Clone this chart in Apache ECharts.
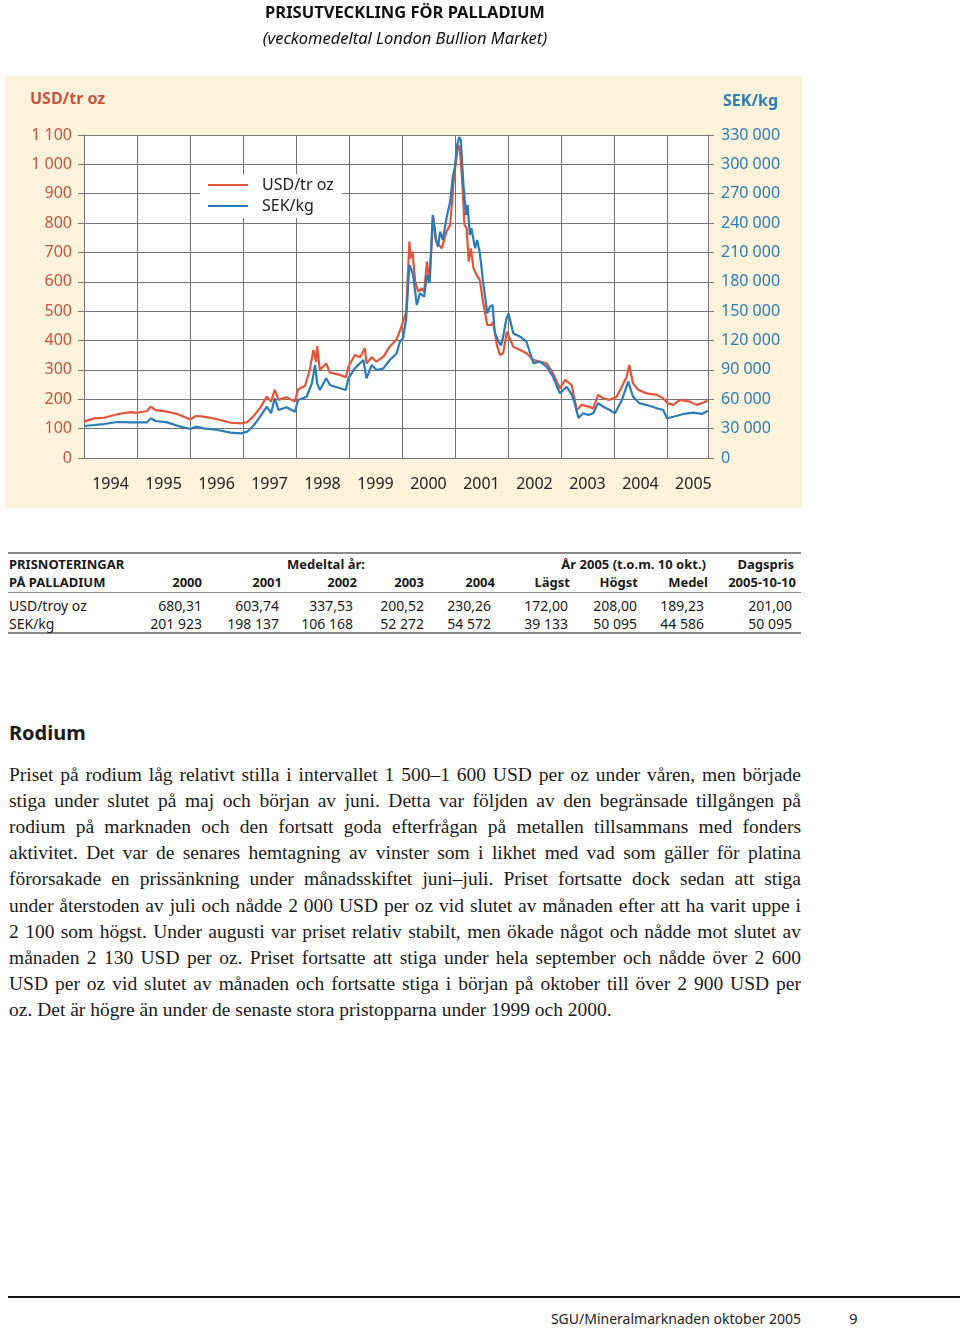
<!DOCTYPE html>
<html>
<head>
<meta charset="utf-8">
<script src="https://cdn.jsdelivr.net/npm/echarts@6/dist/echarts.min.js"></script>
<style>
  html, body { margin:0; padding:0; background:#fff; }
  #page { position:relative; width:960px; height:1328px; overflow:hidden; font-family:"Noto Sans", sans-serif; color:#1a1a1a; }
  #bg { position:absolute; left:5px; top:76px; width:797px; height:432px; background:#FDF3DA; }
  #chart { position:absolute; left:0; top:0; width:960px; height:515px; }
  .rule { position:absolute; left:8px; width:793px; background:#8a8a8a; }
  .cell { position:absolute; font-size:14px; line-height:17px; white-space:nowrap; transform:translateY(-50%); }
  .b { font-weight:700; font-size:13px; }
  #rodium { position:absolute; left:9px; top:732px; transform:translateY(-50%); font-weight:700; font-size:20px; }
  .pl { position:absolute; left:9px; width:792px; font-family:"Liberation Serif", serif; font-size:19.5px; line-height:26px; height:26px; text-align:justify; text-align-last:justify; overflow:hidden; }
  .pl.last { text-align-last:left; }
  #foot { position:absolute; left:8px; width:952px; top:1296px; height:2px; background:#111; }
  #src { position:absolute; right:159px; top:1318px; transform:translateY(-50%); font-size:14px; color:#222; white-space:nowrap; }
  #pg { position:absolute; left:849px; top:1318px; transform:translateY(-50%); font-size:15px; color:#222; }
</style>
</head>
<body>
<div id="page">
  <div id="bg"></div>
  <div id="chart"></div>
  <div id="table"></div>
  <div id="rodium">Rodium</div>
  <div id="para"></div>
  <div id="foot"></div>
  <div id="src">SGU/Mineralmarknaden oktober 2005</div>
  <div id="pg">9</div>
</div>
<script>
// ---- chart data ----
const yearLabels = ['1994','1995','1996','1997','1998','1999','2000','2001','2002','2003','2004','2005'];

const usdTime = [1994.00,1994.19,1994.38,1994.63,1994.88,1995.01,1995.19,1995.26,1995.35,1995.57,1995.76,1995.95,
  1996.01,1996.11,1996.26,1996.52,1996.77,1996.96,1997.08,1997.21,1997.32,1997.45,1997.53,1997.60,1997.67,1997.82,1997.98,
  1998.04,1998.17,1998.26,1998.33,1998.38,1998.40,1998.45,1998.57,1998.64,1998.83,1998.94,1998.99,
  1999.11,1999.21,1999.30,1999.33,1999.43,1999.52,1999.65,1999.77,1999.90,1999.99,
  2000.02,2000.08,2000.14,2000.16,2000.20,2000.25,2000.31,2000.37,2000.42,2000.47,2000.52,2000.59,2000.65,2000.75,2000.84,2000.91,2000.97,
  2001.00,2001.06,2001.09,2001.13,2001.18,2001.22,2001.26,2001.30,2001.35,2001.41,2001.47,2001.53,2001.61,2001.69,2001.72,2001.79,2001.85,2001.91,2001.98,
  2002.01,2002.10,2002.23,2002.35,2002.48,2002.60,2002.73,2002.85,2002.98,
  2003.08,2003.20,2003.30,2003.39,2003.52,2003.61,2003.70,2003.80,2003.92,
  2004.05,2004.15,2004.24,2004.29,2004.36,2004.46,2004.62,2004.81,2004.93,
  2005.02,2005.12,2005.25,2005.43,2005.56,2005.68,2005.77];
const usdPrice = [124,135,137,149,156,154,160,175,163,158,150,135,
  132,143,141,132,120,118,122,145,170,209,192,232,198,207,192,
  234,245,300,368,328,381,300,322,291,283,275,311,
  351,343,374,322,343,328,345,379,404,447,
  453,498,737,680,703,600,566,578,566,669,600,822,737,714,771,794,930,
  981,1066,1055,964,794,782,669,714,646,623,606,532,453,453,464,385,351,357,430,
  436,379,368,357,334,328,322,288,237,
  266,249,163,181,175,169,215,203,198,
  209,243,277,317,254,232,220,215,203,
  186,181,198,192,181,188,195];

const sekTime = [1994.00,1994.19,1994.38,1994.63,1994.88,1995.19,1995.26,1995.35,1995.57,1995.82,
  1996.01,1996.11,1996.26,1996.52,1996.77,1996.96,1997.08,1997.21,1997.32,1997.45,1997.53,1997.60,1997.67,1997.82,1997.98,
  1998.04,1998.20,1998.30,1998.36,1998.40,1998.45,1998.57,1998.64,1998.83,1998.94,1998.99,
  1999.11,1999.27,1999.33,1999.43,1999.52,1999.65,1999.77,1999.90,1999.96,
  2000.02,2000.08,2000.14,2000.18,2000.21,2000.28,2000.34,2000.42,2000.47,2000.52,2000.58,2000.64,2000.68,2000.72,2000.77,2000.84,2000.91,2000.96,
  2001.00,2001.04,2001.08,2001.11,2001.16,2001.21,2001.24,2001.28,2001.31,2001.38,2001.42,2001.47,2001.53,2001.61,2001.66,2001.71,2001.75,2001.82,2001.87,2001.91,2001.97,
  2002.01,2002.04,2002.10,2002.23,2002.35,2002.48,2002.60,2002.73,2002.85,2002.98,
  2003.11,2003.20,2003.25,2003.33,2003.42,2003.52,2003.61,2003.70,2003.80,2003.92,
  2004.02,2004.15,2004.27,2004.36,2004.48,2004.62,2004.81,2004.93,
  2005.00,2005.12,2005.31,2005.50,2005.66,2005.77];
const sekPrice = [32700,33700,34700,36800,36400,36400,40500,37800,36400,32000,
  29600,32000,30300,28600,25900,25200,26900,33700,42000,52400,45700,61000,49000,51800,47300,
  59300,62600,76300,95000,76300,69500,81400,74600,71200,69500,81400,
  91600,100100,81400,95000,89900,91600,100100,107000,118800,
  122300,142700,197200,192100,187000,156300,168300,164800,187000,178500,248300,222700,215900,231200,222700,244900,261900,287400,
  297600,319800,328000,324900,278900,248300,258500,227800,234700,214200,222700,209100,180100,147800,154600,156300,129000,118800,115000,124000,142000,
  147800,141000,127400,123900,118800,96800,98400,93300,83100,66100,
  72800,65000,58000,41000,45700,43900,45700,55900,52400,49000,
  45700,59300,78000,62600,56000,54100,50800,49000,
  40600,42200,45000,46300,45000,48300];

const seriesNames = ['USD/tr oz', 'SEK/kg'];

// ---- table data ----
const tableHeadTop = [['PRISNOTERINGAR', 9, 'l'], ['Medeltal år:', 326, 'c'], ['År 2005 (t.o.m. 10 okt.)', 706, 'r'], ['Dagspris', 794, 'r']];
const tableHeadCols = ['2000','2001','2002','2003','2004','Lägst','Högst','Medel','2005-10-10'];
const headRight = [202, 282, 357, 424, 495, 570, 638, 708, 796];
const dataRight = [202, 279, 353, 424, 491, 568, 637, 704, 792];
const rowLabels = ['USD/troy oz', 'SEK/kg'];
const rowUsd = ['680,31','603,74','337,53','200,52','230,26','172,00','208,00','189,23','201,00'];
const rowSek = ['201 923','198 137','106 168','52 272','54 572','39 133','50 095','44 586','50 095'];

const paraLines = [
  'Priset på rodium låg relativt stilla i intervallet 1 500–1 600 USD per oz under våren, men började',
  'stiga under slutet på maj och början av juni. Detta var följden av den begränsade tillgången på',
  'rodium på marknaden och den fortsatt goda efterfrågan på metallen tillsammans med fonders',
  'aktivitet. Det var de senares hemtagning av vinster som i likhet med vad som gäller för platina',
  'förorsakade en prissänkning under månadsskiftet juni–juli. Priset fortsatte dock sedan att stiga',
  'under återstoden av juli och nådde 2 000 USD per oz vid slutet av månaden efter att ha varit uppe i',
  '2 100 som högst. Under augusti var priset relativ stabilt, men ökade något och nådde mot slutet av',
  'månaden 2 130 USD per oz. Priset fortsatte att stiga under hela september och nådde över 2 600',
  'USD per oz vid slutet av månaden och fortsatte stiga i början på oktober till över 2 900 USD per',
  'oz. Det är högre än under de senaste stora pristopparna under 1999 och 2000.'
];

// ---- build table ----
(function(){
  const t = document.getElementById('table');
  let h = '';
  h += '<div class="rule" style="top:552px;height:2px"></div>';
  h += '<div class="rule" style="top:592px;height:1px"></div>';
  h += '<div class="rule" style="top:632px;height:2px"></div>';
  tableHeadTop.forEach(([txt, x, a]) => {
    let pos = a === 'l' ? 'left:' + x + 'px' : a === 'r' ? 'right:' + (960 - x) + 'px' : 'left:' + x + 'px;transform:translate(-50%,-50%)';
    h += '<div class="cell b" style="top:564px;' + pos + '">' + txt + '</div>';
  });
  h += '<div class="cell b" style="top:582px;left:9px">PÅ PALLADIUM</div>';
  tableHeadCols.forEach((c, i) => { h += '<div class="cell b" style="top:582px;right:' + (960 - headRight[i]) + 'px">' + c + '</div>'; });
  [[rowLabels[0], rowUsd, 605], [rowLabels[1], rowSek, 623]].forEach(([lab, vals, y]) => {
    h += '<div class="cell" style="top:' + y + 'px;left:9px">' + lab + '</div>';
    vals.forEach((v, i) => { h += '<div class="cell" style="top:' + y + 'px;right:' + (960 - dataRight[i]) + 'px">' + v + '</div>'; });
  });
  t.innerHTML = h;
  const p = document.getElementById('para');
  let ph = '';
  paraLines.forEach((l, i) => {
    const top = 762 + i * 26.1;
    ph += '<div class="pl' + (i === paraLines.length - 1 ? ' last' : '') + '" style="top:' + top + 'px">' + l + '</div>';
  });
  p.innerHTML = ph;
})();

// ---- chart ----
const sp = v => String(v).replace(/\B(?=(\d{3})+(?!\d))/g, ' ');
const chart = echarts.init(document.getElementById('chart'), null, { renderer: 'canvas' });
const gridColor = '#757575';
const red = '#E2553A', blue = '#2B7BB9';
const xMin = 1994, xMax = 2005.775;
chart.setOption({
  backgroundColor: 'transparent',
  animation: false,
  textStyle: { fontFamily: 'Noto Sans' },
  graphic: [
    { type: 'text', x: 405, y: 13, style: { text: 'PRISUTVECKLING FÖR PALLADIUM', align: 'center', verticalAlign: 'middle', font: 'bold 16.5px "Noto Sans"', fill: '#111' } },
    { type: 'text', x: 405, y: 39, style: { text: '(veckomedeltal London Bullion Market)', align: 'center', verticalAlign: 'middle', font: 'italic 16.5px "Noto Sans"', fill: '#111' } },
    { type: 'text', x: 30, y: 99, style: { text: 'USD/tr oz', align: 'left', verticalAlign: 'middle', font: 'bold 16px "Noto Sans"', fill: '#C9553F' } },
    { type: 'text', x: 723, y: 101, style: { text: 'SEK/kg', align: 'left', verticalAlign: 'middle', font: 'bold 16px "Noto Sans"', fill: '#2E7CB5' } }
  ],
  grid: { left: 84, right: 252, top: 135, height: 323, show: true, backgroundColor: '#fff', borderWidth: 0 },
  legend: {
    data: seriesNames, orient: 'vertical', left: 200, top: 174, itemWidth: 40, itemHeight: 2, itemGap: 5,
    icon: 'rect', backgroundColor: '#fff', padding: [3, 8, 4, 8],
    textStyle: { fontSize: 16, color: '#222', padding: [0, 0, 0, 9], fontFamily: 'Noto Sans' }
  },
  xAxis: [
    { type: 'value', min: xMin, max: xMax, interval: 1, position: 'bottom',
      axisLine: { show: false }, axisTick: { show: false }, axisLabel: { show: false },
      splitLine: { show: true, lineStyle: { color: gridColor, width: 1 } } },
    { type: 'value', min: xMin, max: xMax, interval: 0.5, position: 'bottom', offset: 0,
      axisLine: { show: false }, axisTick: { show: false }, splitLine: { show: false },
      axisLabel: { show: true, margin: 18, fontSize: 16, color: '#222', showMaxLabel: false,
        formatter: v => (Math.abs(v % 1 - 0.5) < 1e-6 ? yearLabels[Math.round(v - 0.5) - 1994] : '') } }
  ],
  yAxis: [
    { type: 'value', min: 0, max: 1100, interval: 100, position: 'left',
      axisLine: { show: true, lineStyle: { color: gridColor } },
      axisTick: { show: true, inside: false, length: 6, lineStyle: { color: gridColor } },
      axisLabel: { margin: 12, fontSize: 16, color: '#C9553F', formatter: sp },
      splitLine: { show: true, lineStyle: { color: gridColor, width: 1 } } },
    { type: 'value', min: 0, max: 330000, interval: 30000, position: 'right',
      axisLine: { show: true, lineStyle: { color: gridColor } },
      axisTick: { show: true, inside: false, length: 6, lineStyle: { color: gridColor } },
      axisLabel: { margin: 13, fontSize: 16, color: '#2E7CB5', formatter: sp },
      splitLine: { show: false } }
  ],
  series: [
    { name: seriesNames[0], type: 'line', xAxisIndex: 0, yAxisIndex: 0, showSymbol: false, symbol: 'none',
      lineStyle: { color: red, width: 2.2 }, itemStyle: { color: red },
      data: usdTime.map((t, i) => [t, usdPrice[i]]) },
    { name: seriesNames[1], type: 'line', xAxisIndex: 0, yAxisIndex: 1, showSymbol: false, symbol: 'none',
      lineStyle: { color: blue, width: 2.2 }, itemStyle: { color: blue },
      data: sekTime.map((t, i) => [t, sekPrice[i]]) }
  ]
});
</script>
</body>
</html>
